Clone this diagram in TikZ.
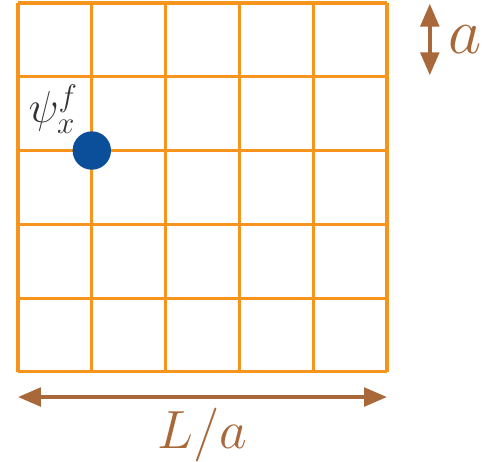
\documentclass[tikz,border=0pt]{standalone}
\usepackage{xcolor}
\usepackage{tikz}
\usetikzlibrary{positioning,arrows.meta}
\definecolor{lgorange}{HTML}{F7941D}
\definecolor{lgbrown}{HTML}{A8683A}
\definecolor{lgblue}{HTML}{0B4F9B}
\tikzset{
  gridln/.style={draw=lgorange,line width=1.2pt},
  site/.style={circle,fill=lgblue,inner sep=0pt,minimum size=5.2mm},
  dimarr/.style={{Triangle[length=3.1mm,width=2.5mm]}-{Triangle[length=3.1mm,width=2.5mm]},draw=lgbrown,line width=1.5pt},
  dimlbl/.style={text=lgbrown,font=\huge},
}
\begin{document}
\begin{tikzpicture}
  \useasboundingbox (-0.244,-1.22) rectangle (6.45,5.04);
  % lattice
  \foreach \i in {0,...,5}{
    \draw[gridln] (\i,0) -- (\i,5);
    \draw[gridln] (0,\i) -- (5,\i);
  }
  \node[site] (psi) at (1,3) {};
  \node[font=\LARGE,text=black!80] (psilbl) at (0.48,3.56) {$\psi_x^f$};
  % spacing a
  \coordinate (atop) at (5.58,4.99);
  \coordinate (abot) at (5.58,4.02);
  \draw[dimarr] (atop) -- (abot);
  \node[dimlbl,font=\Huge] (alb) at (6.06,4.5) {$a$};
  % extent L/a
  \coordinate (lleft) at (0,-0.34);
  \coordinate (lright) at (5,-0.34);
  \draw[dimarr] (lleft) -- (lright);
  \node[dimlbl] (llb) at (2.5,-0.86) {$L/a$};
\end{tikzpicture}
\end{document}
